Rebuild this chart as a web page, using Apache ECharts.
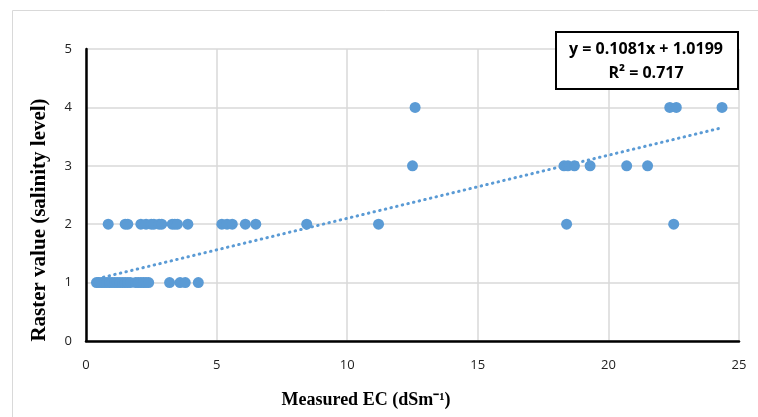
<!DOCTYPE html>
<html lang="en">
<head>
  <meta charset="UTF-8">
  <title>Raster value vs Measured EC</title>
  <script src="https://cdn.jsdelivr.net/npm/echarts@6.0.0/dist/echarts.min.js"></script>
  <style>
    body { margin: 0; padding: 0; background: #fff; }
    #chart { width: 758px; height: 417px; }
  </style>
</head>
<body>
  <div id="chart"></div>
  <script>
    // measured EC (x) and raster level (y)
    const ecLevel1 = [0.4, 0.5, 0.6, 0.7, 0.8, 0.9, 1.0, 1.1, 1.2, 1.3, 1.4, 1.5, 1.6, 1.7, 1.9, 2.0, 2.1, 2.2, 2.3, 2.4, 3.2, 3.6, 3.8, 4.3];
    const ecLevel2 = [0.85, 1.5, 1.6, 2.1, 2.3, 2.5, 2.6, 2.8, 2.9, 3.3, 3.4, 3.5, 3.9, 5.2, 5.4, 5.6, 6.1, 6.5, 8.45, 11.2, 18.4, 22.5];
    const ecLevel3 = [12.5, 18.3, 18.45, 18.7, 19.3, 20.7, 21.5];
    const ecLevel4 = [12.6, 22.35, 22.6, 24.35];

    // trendline shown on the figure
    const slope = 0.1081;
    const intercept = 1.0199;
    const trendRange = [0.45, 24.35];

    const xTicks = [0, 5, 10, 15, 20, 25];
    const yTicks = [0, 1, 2, 3, 4, 5];

    const points = [];
    [[ecLevel1, 1], [ecLevel2, 2], [ecLevel3, 3], [ecLevel4, 4]].forEach(function (g) {
      g[0].forEach(function (x) { points.push([x, g[1]]); });
    });
    const trend = trendRange.map(function (x) { return [x, slope * x + intercept]; });

    const chart = echarts.init(document.getElementById('chart'));
    chart.setOption({
      animation: false,
      grid: { left: 86, right: 19, top: 49, bottom: 76 },
      xAxis: {
        type: 'value', min: xTicks[0], max: xTicks[xTicks.length - 1], interval: 5,
        axisLine: { lineStyle: { color: '#000', width: 2.5 } },
        axisTick: { show: false },
        axisLabel: { fontFamily: 'Open Sans', fontSize: 13, color: '#222', margin: 18 },
        splitLine: { lineStyle: { color: '#d9d9d9', width: 1.5 } }
      },
      yAxis: {
        type: 'value', min: yTicks[0], max: yTicks[yTicks.length - 1], interval: 1,
        axisLine: { show: true, lineStyle: { color: '#000', width: 2.5 } },
        axisTick: { show: false },
        axisLabel: { fontFamily: 'Open Sans', fontSize: 13, color: '#222', margin: 14 },
        splitLine: { lineStyle: { color: '#d9d9d9', width: 1.5 } }
      },
      series: [
        {
          type: 'line',
          data: trend,
          showSymbol: false,
          z: 3,
          lineStyle: { color: '#5b9bd5', width: 3, type: [0.5, 5.3], cap: 'round' }
        },
        {
          type: 'scatter',
          data: points,
          symbolSize: 11,
          z: 2,
          itemStyle: { color: '#5b9bd5', opacity: 1 }
        }
      ],
      graphic: [
        {
          type: 'rect', left: 10, top: 8, silent: true,
          shape: { width: 760, height: 420 },
          style: { fill: 'none', stroke: '#d9d9d9', lineWidth: 1 }
        },
        {
          type: 'rect', left: 555, top: 31, z: 10,
          shape: { width: 182, height: 57 },
          style: { fill: '#fff', stroke: '#000', lineWidth: 2 }
        },
        {
          type: 'text', x: 646, y: 49, z: 11,
          style: { text: 'y = 0.1081x + 1.0199', font: 'bold 16px "Open Sans"', fill: '#000', align: 'center', verticalAlign: 'middle' }
        },
        {
          type: 'text', x: 646, y: 73, z: 11,
          style: { text: 'R² = 0.717', font: 'bold 16px "Open Sans"', fill: '#000', align: 'center', verticalAlign: 'middle' }
        },
        {
          type: 'text', x: 366, y: 400, z: 11,
          style: { text: 'Measured EC (dSm⁻¹)', font: 'bold 18px "Liberation Serif"', fill: '#000', align: 'center', verticalAlign: 'middle' }
        },
        {
          type: 'text', x: 40, y: 220, rotation: Math.PI / 2, z: 11,
          style: { text: 'Raster value (salinity level)', font: 'bold 21px "Liberation Serif"', fill: '#000', align: 'center', verticalAlign: 'middle' }
        }
      ]
    });
  </script>
</body>
</html>
